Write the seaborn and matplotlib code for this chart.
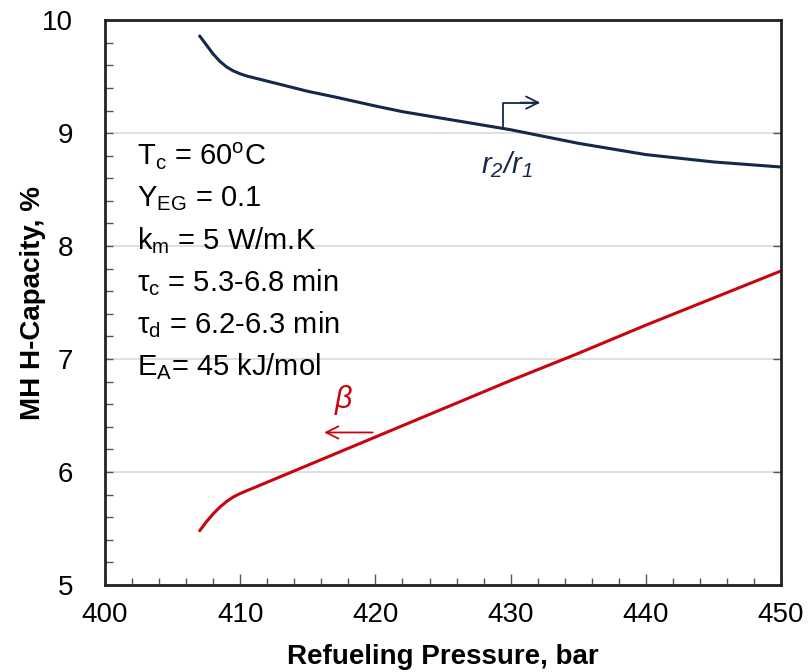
import pandas as pd
import seaborn as sns
import matplotlib.pyplot as plt
from matplotlib.ticker import MultipleLocator

# values
pressure_r = [407, 407.5, 408, 408.5, 409, 409.5, 410, 410.5, 411, 412, 415, 417, 420, 422, 425, 430, 435, 440, 445, 450]
ratio_r = [9.86, 9.78, 9.70, 9.635, 9.585, 9.55, 9.525, 9.505, 9.49, 9.46, 9.37, 9.32, 9.24, 9.19, 9.13, 9.03, 8.91, 8.81, 8.745, 8.70]

pressure_b = [407, 407.5, 408, 408.5, 409, 409.5, 410, 410.5, 411, 412, 415, 418, 420, 425, 430, 435, 440, 445, 450]
beta_b = [5.48, 5.56, 5.63, 5.69, 5.74, 5.78, 5.81, 5.835, 5.86, 5.91, 6.06, 6.21, 6.31, 6.56, 6.81, 7.05, 7.30, 7.54, 7.78]

params = [
    "T$_c$ = 60$^o$C",
    "Y$_{EG}$ = 0.1",
    "k$_m$ = 5 W/m.K",
    "τ$_c$ = 5.3-6.8 min",
    "τ$_d$ = 6.2-6.3 min",
    "E$_A$= 45 kJ/mol",
]

navy = "#14284a"
red = "#c8050f"

sns.set_style("white")
plt.rcParams['font.family'] = ['Liberation Sans', 'DejaVu Sans']
plt.rcParams['mathtext.default'] = 'regular'
plt.rcParams['text.color'] = 'black'
plt.rcParams['axes.labelcolor'] = 'black'
plt.rcParams['xtick.color'] = 'black'
plt.rcParams['ytick.color'] = 'black'

df_r = pd.DataFrame({"p": pressure_r, "cap": ratio_r})
df_b = pd.DataFrame({"p": pressure_b, "cap": beta_b})

fig = plt.figure(figsize=(8.08, 6.72), dpi=100)
ax = fig.add_axes([0.130, 0.1295, 0.8366, 0.8405])

sns.lineplot(data=df_r, x="p", y="cap", color=navy, linewidth=2.2, ax=ax)
sns.lineplot(data=df_b, x="p", y="cap", color=red, linewidth=2.2, ax=ax)

ax.set_xlim(400, 450)
ax.set_ylim(5, 10)
ax.xaxis.set_major_locator(MultipleLocator(10))
ax.xaxis.set_minor_locator(MultipleLocator(2))
ax.yaxis.set_major_locator(MultipleLocator(1))
ax.yaxis.set_minor_locator(MultipleLocator(0.2))
ax.yaxis.grid(True, color="#d9d9d9", linewidth=1.2)
ax.tick_params(axis="both", which="both", direction="in", color="#555555",
               bottom=True, left=True)
ax.tick_params(axis="x", which="major", length=8, width=1, labelsize=20, pad=12)
ax.tick_params(axis="x", which="minor", length=5, width=1)
ax.tick_params(axis="y", which="major", length=6, width=1, labelsize=20, pad=23)
ax.tick_params(axis="y", which="minor", length=6, width=1)
ax.tick_params(axis="y", which="major", right=True)
for s in ax.spines.values():
    s.set_color("#222222")
    s.set_linewidth(2)

ax.set_xlabel("Refueling Pressure, bar", fontsize=20, fontweight="bold", labelpad=12)
ax.set_ylabel("MH H-Capacity, %", fontsize=20, fontweight="bold", labelpad=-3)

for i, t in enumerate(params):
    ax.text(402.4, 8.79 - i * 0.372, t, fontsize=21, color="black", va="center")

# r2/r1 annotation with bent arrow to the right
ax.plot([429.4, 429.4, 432.0], [9.04, 9.27, 9.27], color=navy, linewidth=1.3)
ax.annotate("", xy=(432.4, 9.27), xytext=(430.5, 9.27),
            arrowprops=dict(arrowstyle="->", color=navy, lw=1.3, mutation_scale=22))
ax.text(429.7, 8.72, "r$_2$/r$_1$", fontsize=21, style="italic", color=navy, ha="center", va="center")

# beta annotation with arrow to the left
ax.annotate("", xy=(416.0, 6.35), xytext=(420.0, 6.35),
            arrowprops=dict(arrowstyle="->", color=red, lw=1.3, mutation_scale=22))
ax.text(417.6, 6.64, "β", fontsize=22, style="italic", color=red, ha="center", va="center")

fig.savefig("out.png", dpi=100)
